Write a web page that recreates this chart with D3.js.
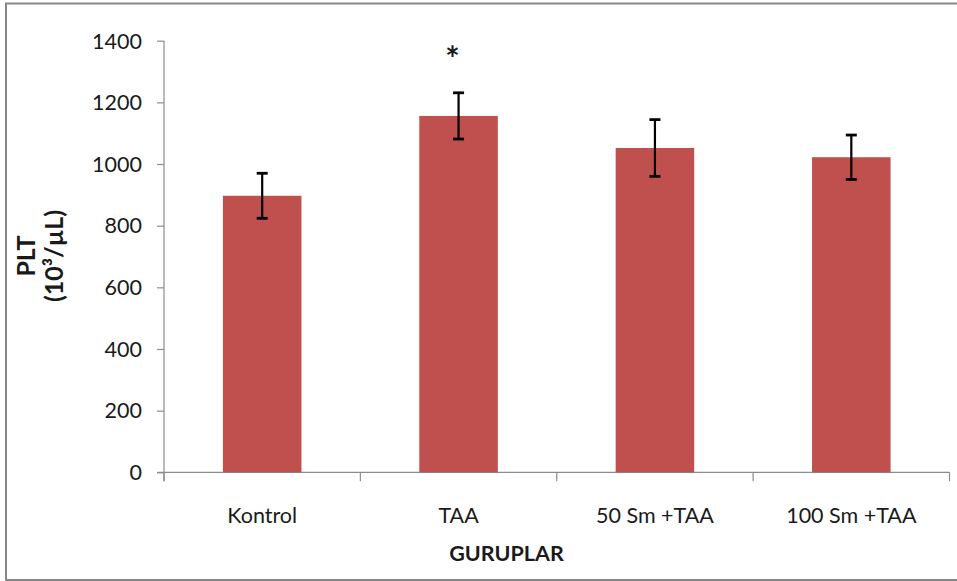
<!DOCTYPE html>
<html>
<head>
<meta charset="utf-8">
<script src="https://cdn.jsdelivr.net/npm/d3@7"></script>
<style>
  html, body { margin: 0; padding: 0; background: #fff; }
  svg { display: block; }
  text { font-family: Lato, "Open Sans", sans-serif; fill: #1a1a1a; }
</style>
</head>
<body>
<svg id="chart" width="957" height="581"></svg>
<script>
// Platelet counts per group (mean and error)
const groups = ["Kontrol", "TAA", "50 Sm +TAA", "100 Sm +TAA"];
const means = [897, 1156, 1052, 1022];
const errors = [73, 75, 92, 72];
const marks = ["", "*", "", ""];
const yTicks = [0, 200, 400, 600, 800, 1000, 1200, 1400];

const svg = d3.select("#chart");
const W = 957, H = 581;
const plot = { left: 164, right: 949.5, top: 40.7, bottom: 472.3 };

// Outer chart frame
svg.append("rect")
  .attr("x", 6).attr("y", 3.5)
  .attr("width", W + 20).attr("height", 576.5)
  .attr("fill", "#fff")
  .attr("stroke", "#888").attr("stroke-width", 2);

const x = d3.scaleBand().domain(groups).range([plot.left, plot.right]).padding(0);
const y = d3.scaleLinear().domain([0, 1400]).range([plot.bottom, plot.top]);

const axisColor = "#8c8c8c";

// Y axis
const yAxis = svg.append("g")
  .attr("transform", `translate(${plot.left},0)`)
  .call(d3.axisLeft(y).tickValues(yTicks).tickSize(7).tickPadding(15).tickFormat(d3.format("d")));
yAxis.select(".domain").attr("stroke", axisColor).attr("stroke-width", 1.2)
  .attr("d", `M0,${plot.top}H0V${plot.bottom + 9}`);
yAxis.selectAll(".tick line").attr("stroke", axisColor).attr("stroke-width", 1.2);
yAxis.selectAll(".tick text")
  .style("font-size", "21.5px").attr("fill", "#1a1a1a").attr("dy", "0.34em");

// X axis: ticks on category boundaries
const xAxisG = svg.append("g");
xAxisG.append("line")
  .attr("x1", plot.left - 7).attr("x2", plot.right)
  .attr("y1", plot.bottom).attr("y2", plot.bottom)
  .attr("stroke", axisColor).attr("stroke-width", 1.2);
const bounds = groups.map(g => x(g)).concat([x(groups[groups.length - 1]) + x.bandwidth()]);
xAxisG.selectAll("line.bound").data(bounds).join("line")
  .attr("class", "bound")
  .attr("x1", d => d).attr("x2", d => d)
  .attr("y1", plot.bottom).attr("y2", plot.bottom + 9)
  .attr("stroke", axisColor).attr("stroke-width", 1.2);
xAxisG.selectAll("text.cat").data(groups).join("text")
  .attr("class", "cat")
  .attr("x", d => x(d) + x.bandwidth() / 2)
  .attr("y", 523)
  .attr("text-anchor", "middle")
  .style("font-size", "21.5px")
  .text(d => d);

// Bars
const barFrac = 0.4;
const bw = x.bandwidth() * barFrac;
const cx = d => x(d) + x.bandwidth() / 2;
svg.append("g").selectAll("rect").data(groups).join("rect")
  .attr("x", d => cx(d) - bw / 2)
  .attr("width", bw)
  .attr("y", (d, i) => y(means[i]))
  .attr("height", (d, i) => y(0) - y(means[i]))
  .attr("fill", "#C0504D");

// Error bars
const eb = svg.append("g").attr("stroke", "#000").attr("stroke-width", 2.2);
groups.forEach((g, i) => {
  const hi = y(means[i] + errors[i]), lo = y(means[i] - errors[i]);
  eb.append("line").attr("x1", cx(g)).attr("x2", cx(g)).attr("y1", hi).attr("y2", lo);
  eb.append("line").attr("x1", cx(g) - 5.5).attr("x2", cx(g) + 5.5).attr("y1", hi).attr("y2", hi).attr("stroke-width", 2.8);
  eb.append("line").attr("x1", cx(g) - 5.5).attr("x2", cx(g) + 5.5).attr("y1", lo).attr("y2", lo).attr("stroke-width", 2.8);
});

// Significance marks
svg.append("g").selectAll("text").data(groups).join("text")
  .attr("x", d => cx(d) - 6)
  .attr("y", (d, i) => y(means[i] + errors[i]) - 22)
  .attr("text-anchor", "middle")
  .style("font-size", "34px").style("font-weight", "bold")
  .attr("fill", "#000")
  .text((d, i) => marks[i]);

// Axis titles
svg.append("text")
  .attr("x", 506.5).attr("y", 560.5)
  .attr("text-anchor", "middle")
  .style("font-size", "21.5px").style("font-weight", "bold")
  .attr("fill", "#111")
  .text("GURUPLAR");

const yTitle = svg.append("text")
  .attr("transform", "translate(35,256) rotate(-90)")
  .attr("text-anchor", "middle")
  .style("font-size", "25px").style("font-weight", "bold")
  .attr("fill", "#111");
yTitle.append("tspan").attr("x", 0).attr("y", 0).text("PLT");
yTitle.append("tspan").attr("x", 0).attr("y", 28).text("(10³/µL)");
</script>
</body>
</html>
